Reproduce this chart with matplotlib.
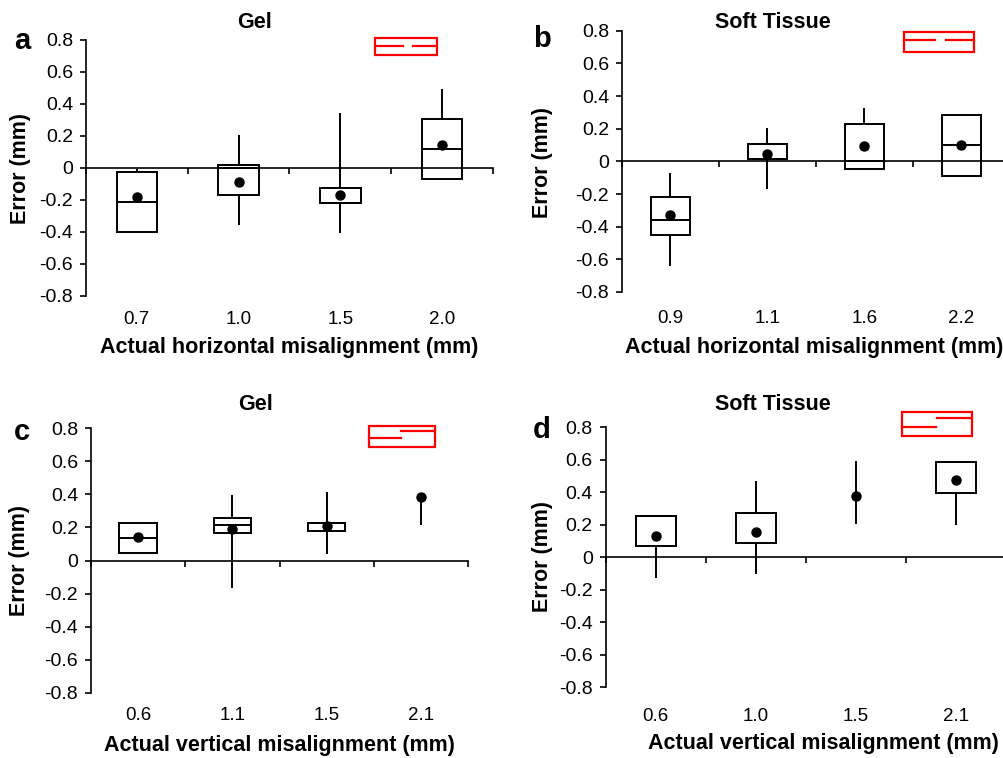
import numpy as np
import matplotlib
matplotlib.use("Agg")
import matplotlib.pyplot as plt
from matplotlib.patches import Rectangle

plt.rcParams['font.family'] = ['Liberation Sans', 'DejaVu Sans']

W, H = 1004, 758

# panel a - Gel, horizontal
labels_a = ['0.7', '1.0', '1.5', '2.0']
q1_a = [-0.40, -0.169, -0.219, -0.071]
med_a = [-0.21, 0.0, -0.219, 0.117]
q3_a = [-0.027, 0.017, -0.127, 0.304]
lo_a = [-0.40, -0.358, -0.406, -0.071]
hi_a = [-0.005, 0.206, 0.342, 0.494]
mean_a = [-0.183, -0.085, -0.167, 0.144]

# panel b - Soft Tissue, horizontal
labels_b = ['0.9', '1.1', '1.6', '2.2']
q1_b = [-0.451, 0.012, -0.049, -0.090]
med_b = [-0.361, 0.012, 0.0, 0.098]
q3_b = [-0.218, 0.108, 0.231, 0.286]
lo_b = [-0.643, -0.171, -0.049, -0.090]
hi_b = [-0.073, 0.206, 0.329, 0.290]
mean_b = [-0.331, 0.045, 0.092, 0.098]

# panel c - Gel, vertical
labels_c = ['0.6', '1.1', '1.5', '2.1']
q1_c = [0.046, 0.166, 0.178, np.nan]
med_c = [0.137, 0.212, 0.224, np.nan]
q3_c = [0.228, 0.259, 0.224, np.nan]
lo_c = [0.046, -0.166, 0.038, 0.216]
hi_c = [0.234, 0.396, 0.416, 0.386]
mean_c = [0.141, 0.188, 0.208, 0.386]

# panel d - Soft Tissue, vertical
labels_d = ['0.6', '1.0', '1.5', '2.1']
q1_d = [0.068, 0.086, np.nan, 0.393]
med_d = [0.254, 0.273, np.nan, 0.582]
q3_d = [0.254, 0.273, np.nan, 0.582]
lo_d = [-0.129, -0.102, 0.205, 0.199]
hi_d = [0.254, 0.471, 0.592, 0.588]
mean_d = [0.129, 0.156, 0.377, 0.477]

yticks = [-0.8, -0.6, -0.4, -0.2, 0, 0.2, 0.4, 0.6, 0.8]
ytick_labels = ['0' if v == 0 else '%.1f' % v for v in yticks]

fig = plt.figure(figsize=(W / 100, H / 100), dpi=100)


def add_ax(l, t, r, b):
    return fig.add_axes([l / W, 1 - b / H, (r - l) / W, (b - t) / H])


def ftext(x, y, s, **kw):
    fig.text(x / W, 1 - y / H, s, ha='center', va='center', **kw)


def boxpanel(ax, labels, q1, med, q3, lo, hi, mean, pad):
    n = len(labels)
    x = np.arange(n) + 0.5
    ax.set_xlim(0, n)
    ax.set_ylim(-0.8, 0.8)
    for i in range(n):
        if np.isnan(q1[i]):
            ax.vlines(x[i], lo[i], hi[i], color='k', lw=1.4)
        else:
            ax.vlines([x[i], x[i]], [lo[i], q3[i]], [q1[i], hi[i]], color='k', lw=1.4)
            ax.add_patch(Rectangle((x[i] - 0.2, q1[i]), 0.4, q3[i] - q1[i],
                                   fill=False, ec='k', lw=1.4))
            ax.hlines(med[i], x[i] - 0.2, x[i] + 0.2, color='k', lw=1.4)
    ax.plot(x, mean, 'o', color='k', ms=6.5, zorder=5)

    for s in ['top', 'right']:
        ax.spines[s].set_visible(False)
    ax.spines['bottom'].set_position(('data', 0))
    ax.spines['left'].set_linewidth(1.2)
    ax.spines['bottom'].set_linewidth(1.2)
    ax.set_xticks(np.arange(n + 1))
    ax.set_xticklabels([])
    ax.tick_params(axis='x', direction='out', length=4.5, width=1.2)
    ax.set_yticks(yticks)
    ax.set_yticklabels(ytick_labels)
    ax.tick_params(axis='y', direction='out', length=4.3, width=1.2, labelsize=14, pad=5)

    sec = ax.secondary_xaxis(0)
    sec.set_xticks(x)
    sec.set_xticklabels(labels)
    sec.tick_params(length=0, pad=pad, labelsize=13.5)
    sec.spines['bottom'].set_visible(False)


def redmark(ax, x0, x1, y0, y1, segs):
    ax.add_patch(Rectangle((x0, y0), x1 - x0, y1 - y0, fill=False, ec='red',
                           lw=1.6, clip_on=False))
    for xa, xb, yy in segs:
        ax.plot([xa, xb], [yy, yy], color='red', lw=1.6, clip_on=False)


TITLE = dict(fontsize=15.5, fontweight='bold')
LAB = dict(fontsize=15.5, fontweight='bold')
LET = dict(fontsize=21, fontweight='bold')

# a
ax = add_ax(86, 40, 493, 296)
boxpanel(ax, labels_a, q1_a, med_a, q3_a, lo_a, hi_a, mean_a, 11)
redmark(ax, 2.84, 3.45, 0.706, 0.81, [(2.84, 3.12, 0.764), (3.21, 3.45, 0.764)])
ftext(22, 41, 'a', **LET)
ftext(255, 22, 'Gel', **TITLE)
ftext(21, 168, 'Error (mm)', rotation=90, **LAB)
ftext(289, 347, 'Actual horizontal misalignment (mm)', **LAB)

# b
ax = add_ax(622, 30.7, 1010, 292)
boxpanel(ax, labels_b, q1_b, med_b, q3_b, lo_b, hi_b, mean_b, 13)
redmark(ax, 2.91, 3.63, 0.672, 0.794, [(2.91, 3.23, 0.743), (3.34, 3.63, 0.743)])
ftext(542, 39, 'b', **LET)
ftext(773, 22, 'Soft Tissue', **TITLE)
ftext(543, 162, 'Error (mm)', rotation=90, **LAB)
ftext(814, 347, 'Actual horizontal misalignment (mm)', **LAB)

# c
ax = add_ax(91, 428.3, 468, 692.7)
boxpanel(ax, labels_c, q1_c, med_c, q3_c, lo_c, hi_c, mean_c, 10.5)
redmark(ax, 2.95, 3.65, 0.685, 0.814, [(2.95, 3.29, 0.739), (3.29, 3.65, 0.782)])
ftext(22, 432, 'c', **LET)
ftext(256, 404, 'Gel', **TITLE)
ftext(20, 561, 'Error (mm)', rotation=90, **LAB)
ftext(279, 745, 'Actual vertical misalignment (mm)', **LAB)

# d
ax = add_ax(605.7, 427, 1005.7, 687.3)
boxpanel(ax, labels_d, q1_d, med_d, q3_d, lo_d, hi_d, mean_d, 15)
redmark(ax, 2.96, 3.66, 0.743, 0.892, [(2.96, 3.30, 0.80), (3.31, 3.66, 0.853)])
ftext(542, 430, 'd', **LET)
ftext(773, 404, 'Soft Tissue', **TITLE)
ftext(543, 556, 'Error (mm)', rotation=90, **LAB)
ftext(823, 744, 'Actual vertical misalignment (mm)', **LAB)

fig.savefig('out.png', dpi=100)
